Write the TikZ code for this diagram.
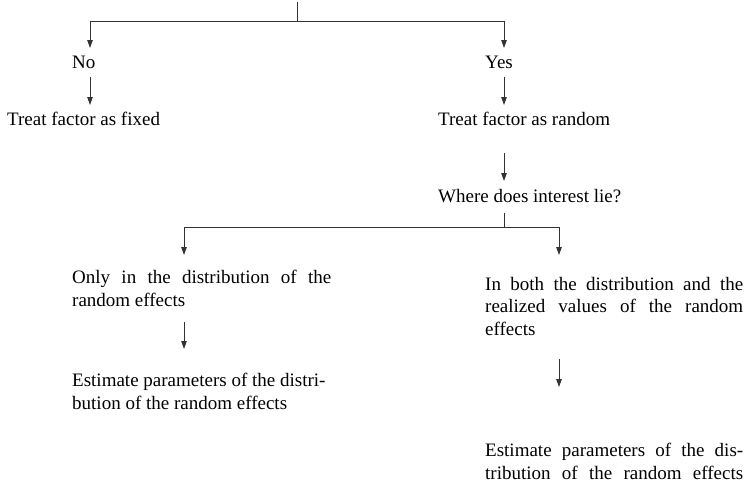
\documentclass[tikz,border=0pt]{standalone}
\usepackage{fontspec}
\setmainfont{Liberation Serif}
\usetikzlibrary{arrows.meta}
\begin{document}
\begin{tikzpicture}[x=1pt,y=-1pt,
  txt/.style={anchor=base west,inner sep=0pt,font=\fontsize{19}{22.5}\selectfont},
  partxt/.style={txt,align=left},
  ln/.style={line width=0.9pt,draw=black!80},
  arr/.style={ln,-{Triangle[length=8pt,width=5.5pt]}}]
\useasboundingbox (0,0) rectangle (746,482);
% texts (multi-line nodes: base = baseline of last line)
\node[txt] (no) at (72,68) {No};
\node[txt] (yes) at (485,68) {Yes};
\node[txt] (fixed) at (7,125) {Treat factor as fixed};
\node[txt] (random) at (438,125) {Treat factor as random};
\node[txt] (where) at (438,202) {Where does interest lie?};
\node[partxt] (only) at (72,306) {\makebox[259pt][s]{Only in the distribution of the}\\random effects};
\node[partxt] (both) at (485,335) {\makebox[258pt][s]{In both the distribution and the}\\\makebox[258pt][s]{realized values of the random}\\effects};
\node[partxt] (estL) at (72,409) {Estimate parameters of the distri-\\bution of the random effects};
\node[partxt] (estR) at (485,479) {\makebox[258pt][s]{Estimate parameters of the dis-}\\\makebox[258pt][s]{tribution of the random effects}};
% connector points
\coordinate (root) at (297,2);
\coordinate (j1) at (297,21);
\coordinate (noIn) at (90,48);
\coordinate (yesIn) at (504,48);
\coordinate (noOut) at (90,77);
\coordinate (fixedIn) at (90,105);
\coordinate (yesOut) at (504,77);
\coordinate (randomIn) at (504,105);
\coordinate (randomOut) at (504,153);
\coordinate (whereIn) at (504,181);
\coordinate (whereOut) at (504,213);
\coordinate (j2) at (504,227);
\coordinate (onlyIn) at (184,255);
\coordinate (bothIn) at (559,255);
\coordinate (onlyOut) at (184,322);
\coordinate (estLIn) at (184,349);
\coordinate (bothOut) at (559,359);
\coordinate (estRIn) at (559,387);
% connectors
\draw[ln] (root) -- (j1);
\draw[arr] (j1) -| (noIn);
\draw[arr] (j1) -| (yesIn);
\draw[arr] (noOut) -- (fixedIn);
\draw[arr] (yesOut) -- (randomIn);
\draw[arr] (randomOut) -- (whereIn);
\draw[ln] (whereOut) -- (j2);
\draw[arr] (j2) -| (onlyIn);
\draw[arr] (j2) -| (bothIn);
\draw[arr] (onlyOut) -- (estLIn);
\draw[arr] (bothOut) -- (estRIn);
\end{tikzpicture}
\end{document}
